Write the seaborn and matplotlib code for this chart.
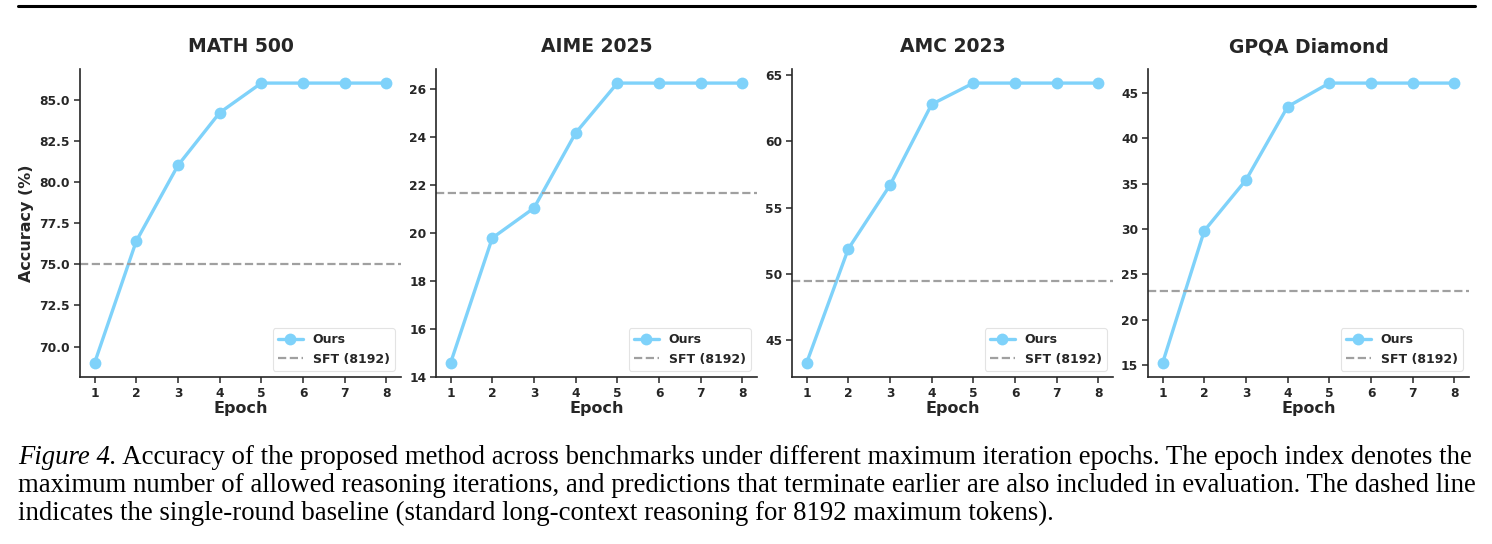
import matplotlib
matplotlib.use("Agg")
import matplotlib.pyplot as plt
from matplotlib.lines import Line2D
import pandas as pd
import seaborn as sns

# values
epochs = [1, 2, 3, 4, 5, 6, 7, 8]
benchmarks = ["MATH 500", "AIME 2025", "AMC 2023", "GPQA Diamond"]
math500 = [69.0, 76.4, 81.0, 84.2, 86.0, 86.0, 86.0, 86.0]
aime2025 = [14.58, 19.79, 21.04, 24.17, 26.25, 26.25, 26.25, 26.25]
amc2023 = [43.3, 51.9, 56.7, 62.8, 64.4, 64.4, 64.4, 64.4]
gpqa = [15.2, 29.8, 35.4, 43.5, 46.1, 46.1, 46.1, 46.1]
sft_baseline = [75.0, 21.67, 49.5, 23.2]

caption_lines = [
    "Accuracy of the proposed method across benchmarks under different maximum iteration epochs. The epoch index denotes the",
    "maximum number of allowed reasoning iterations, and predictions that terminate earlier are also included in evaluation. The dashed line",
    "indicates the single-round baseline (standard long-context reasoning for 8192 maximum tokens).",
]

sns.set_theme(style="ticks")
plt.rcParams["font.family"] = ["DejaVu Sans"]
plt.rcParams["font.weight"] = "bold"
plt.rcParams["axes.labelweight"] = "bold"
plt.rcParams["axes.titleweight"] = "bold"

line_color = "#7fd2fa"
sft_color = "#a0a0a0"

fig, axs = plt.subplots(1, 4, figsize=(14.92, 5.44), dpi=100)
fig.subplots_adjust(left=0.0536, right=0.9846, bottom=0.307, top=0.873, wspace=0.109)

all_scores = [math500, aime2025, amc2023, gpqa]
for i, ax in enumerate(axs):
    df = pd.DataFrame({"Epoch": epochs, "Accuracy": all_scores[i]})
    sns.lineplot(data=df, x="Epoch", y="Accuracy", ax=ax, color=line_color,
                 linewidth=2.4, marker="o", markersize=8.5, markeredgewidth=0,
                 label="Ours")
    ax.axhline(sft_baseline[i], color=sft_color, linestyle="--", linewidth=1.6,
               label="SFT (8192)")
    ax.set_title(benchmarks[i], fontsize=13.5, pad=12)
    ax.set_xlabel("Epoch", fontsize=11.5, labelpad=1)
    if i == 0:
        ax.set_ylabel("Accuracy (%)", fontsize=11.5)
    else:
        ax.set_ylabel("")
    ax.set_xticks(epochs)
    ax.tick_params(axis="both", labelsize=8.8, length=4, width=1.1, pad=3)
    for lab in ax.get_xticklabels() + ax.get_yticklabels():
        lab.set_fontweight("bold")
    for sp in ["left", "bottom"]:
        ax.spines[sp].set_linewidth(1.2)
        ax.spines[sp].set_color("#262626")
    sns.despine(ax=ax)
    leg = ax.legend(loc="lower right", fontsize=9, frameon=True)
    leg.get_frame().set_edgecolor("#dddddd")
    leg.get_frame().set_linewidth(0.8)
    for t in leg.get_texts():
        t.set_fontweight("bold")

# page rule above the figure
fig.add_artist(Line2D([18 / 1492, 1475 / 1492], [1 - 5.5 / 544, 1 - 5.5 / 544],
                      color="black", linewidth=2.2, transform=fig.transFigure))

# caption
cap_size = 19.3
cap_family = ["Liberation Serif", "DejaVu Serif"]
x0 = 18 / 1492
t1 = fig.text(x0, 1 - 464 / 544, "Figure 4.", fontsize=cap_size, family=cap_family,
              style="italic", fontweight="normal", va="baseline", ha="left", color="black")
axs[0].annotate(" " + caption_lines[0], xy=(1, 0), xycoords=t1, va="bottom", ha="left",
                fontsize=cap_size, family=cap_family, fontweight="normal",
                color="black", annotation_clip=False)
fig.text(x0, 1 - 492 / 544, caption_lines[1], fontsize=cap_size, family=cap_family,
         fontweight="normal", va="baseline", ha="left", color="black")
fig.text(x0, 1 - 520 / 544, caption_lines[2], fontsize=cap_size, family=cap_family,
         fontweight="normal", va="baseline", ha="left", color="black")

fig.savefig("out.png", dpi=100)
